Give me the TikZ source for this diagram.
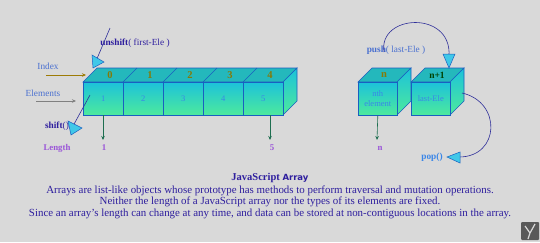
\documentclass[tikz,border=0pt]{standalone}
\usepackage{fontspec}
\setmainfont{Liberation Serif}
\newfontfamily\arrfont{DejaVu Sans}
\usetikzlibrary{arrows.meta}
\definecolor{bg}{HTML}{D9D9D9}
\definecolor{edge}{HTML}{1A5FC0}
\definecolor{topc}{HTML}{24B8BC}
\definecolor{frontT}{HTML}{1CC2DA}
\definecolor{frontB}{HTML}{4EEA9C}
\definecolor{idxc}{HTML}{857A08}
\definecolor{elc}{HTML}{3A86E8}
\definecolor{navy}{HTML}{2E1E9E}
\definecolor{lenc}{HTML}{9A55D8}
\definecolor{grn}{HTML}{1E6E50}
\definecolor{lblue}{HTML}{4A70D0}
\definecolor{tri}{HTML}{40C8E8}
\definecolor{arcc}{HTML}{30309A}
\begin{document}
\begin{tikzpicture}[x=1pt,y=-1pt,
  face/.style={draw=edge, line width=0.6pt, top color=frontT, bottom color=frontB,
    minimum width=40pt, minimum height=33pt, inner sep=0pt, anchor=north west,
    text=elc, font=\fontsize{8.5}{9}\selectfont},
  topface/.style={draw=edge, line width=0.6pt, fill=topc},
  sideface/.style={draw=edge, line width=0.6pt, top color=frontT, bottom color=frontB},
  idx/.style={text=idxc, font=\bfseries\fontsize{10.5}{11}\selectfont, inner sep=0pt},
  lbl/.style={inner sep=0pt, font=\fontsize{9.3}{10}\selectfont},
  len/.style={inner sep=0pt, text=lenc, font=\bfseries\fontsize{8.8}{10}\selectfont},
  down/.style={draw=grn, line width=0.6pt, -{Stealth[length=4pt,width=3.5pt]}},
  trih/.style={fill=tri, draw=edge, line width=0.5pt},
  body/.style={inner sep=0pt, text=navy, font=\fontsize{10.9}{11.6}\selectfont, align=center}
]
\fill[bg] (0,0) rectangle (540,242);
\useasboundingbox (0,0) rectangle (540,242);

% main array
\draw[topface] (83,82) -- (97,68) -- (297,68) -- (283,82) -- cycle;
\foreach \x in {123,163,203,243} \draw[edge, line width=0.6pt] (\x,82) -- (\x+14,68);
\draw[sideface] (283,82) -- (297,68) -- (297,101) -- (283,115) -- cycle;
\node[face] (c1) at (83,82) {1};
\node[face] (c2) at (123,82) {2};
\node[face] (c3) at (163,82) {3};
\node[face] (c4) at (203,82) {4};
\node[face] (c5) at (243,82) {5};
\node[idx] (i0) at (110,75.5) {0};
\node[idx] (i1) at (150,75.5) {1};
\node[idx] (i2) at (190,75.5) {2};
\node[idx] (i3) at (230,75.5) {3};
\node[idx] (i4) at (270,75.5) {4};

% n box
\draw[topface] (358,82) -- (372,68) -- (411,68) -- (397,82) -- cycle;
\draw[sideface] (397,82) -- (411,68) -- (411,101) -- (397,115) -- cycle;
\node[face, minimum width=39pt, align=center, font=\fontsize{8.5}{10}\selectfont] (cn) at (358,82) {nth\\element};
\node[idx] (in) at (384,75.5) {n};
% n+1 box
\draw[topface] (411,82) -- (425,68) -- (464,68) -- (450,82) -- cycle;
\draw[sideface] (450,82) -- (464,68) -- (464,101) -- (450,115) -- cycle;
\node[face, minimum width=39pt, font=\fontsize{8.5}{10}\selectfont] (cl) at (411,82) {last-Ele};
\node[idx, text=black!75!green, font=\bfseries\fontsize{9.5}{10}\selectfont] (inp) at (437,75.5) {n+1};

% left labels
\node[lbl, text=lblue] (index) at (48,66) {Index};
\node[lbl, text=lblue] (elems) at (43,93) {Elements};
\coordinate (ia) at (46,75);
\coordinate (ea) at (36,101);
\draw[draw=idxc!80!orange, line width=0.6pt, -{Stealth[length=4pt,width=3.5pt]}] (ia) -- (86,75);
\draw[draw=gray, line width=0.6pt, -{Stealth[length=4pt,width=3.5pt]}] (ea) -- (76,101);

% unshift
\node[lbl, text=navy] (unsh) at (135,43) {\textbf{unshift}( first-Ele )};
\coordinate (us) at (110,28);
\draw[arcc, line width=0.6pt] (us) -- (96,61);
\draw[trih] (92,55) -- (104,62) -- (93,68) -- cycle;

% shift
\node[lbl, text=navy] (sh) at (57,126) {\textbf{shift}()};
\coordinate (sa) at (90,95);
\draw[arcc, line width=0.6pt] (sa) -- (73,126);
\draw[trih] (68,121) -- (82,128) -- (71,135) -- cycle;

% lengths
\node[len] (lenl) at (57,148) {Length};
\node[len] (l1) at (104,148) {1};
\node[len] (l5) at (272,148) {5};
\node[len] (ln) at (380,148) {n};
\draw[down] (103,115) -- (103,140);
\draw[down] (270,115) -- (270,140);
\draw[down] (cn.south) -- (377,140);

% push
\node[lbl, text=lblue] (push) at (396,50) {\textbf{push}( last-Ele )};
\coordinate (ps) at (384,52);
\draw[arcc, line width=0.6pt] (ps) .. controls (378,14) and (452,10) .. (449,56);
\draw[trih] (443,54) -- (455,54) -- (449,68) -- cycle;

% pop
\node[lbl, text=elc] (pop) at (432,157) {\textbf{pop()}};
\coordinate (pa) at (462,93);
\draw[arcc, line width=0.6pt] (pa) .. controls (502,102) and (500,157) .. (459,157);
\draw[trih] (447,157) -- (460,152) -- (460,163) -- cycle;

% caption
\node[inner sep=0pt, text=navy] (title) at (270,178) {\fontsize{10.5}{11}\selectfont\textbf{JavaScript} {\arrfont\bfseries\fontsize{8.5}{10}\selectfont Array}};
\node[body] (txt) at (270,202) {Arrays are list-like objects whose prototype has methods to perform traversal and mutation operations.\\
Neither the length of a JavaScript array nor the types of its elements are fixed.\\
Since an array's length can change at any time, and data can be stored at non-contiguous locations in the array.};

% logo
\fill[gray!70!black, rounded corners=1pt] (521,222) rectangle (539,240);
\draw[gray!30, line width=1.2pt] (525,226) -- (530,233) -- (535,224) (530,233) -- (528,239);
\end{tikzpicture}
\end{document}
